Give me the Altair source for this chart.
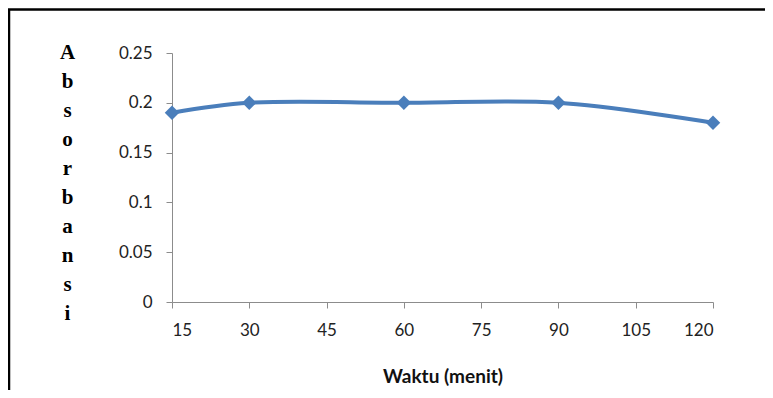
import altair as alt
import pandas as pd

waktu = [15, 30, 60, 90, 120]
absorbansi = [0.19, 0.20, 0.20, 0.20, 0.18]
x_ticks = [15, 30, 45, 60, 75, 90, 105, 120]
y_ticks = [0, 0.05, 0.1, 0.15, 0.2, 0.25]
y_title = ["A", "b", "s", "o", "r", "b", "a", "n", "s", "i"]
x_title = "Waktu (menit)"

df = pd.DataFrame({"waktu": waktu, "abs": absorbansi})

LINE_COLOR = "#4a7ebb"
AXIS_COLOR = "#8c8c8c"

x_enc = alt.X(
    "waktu:Q",
    scale=alt.Scale(domain=[15, 120], nice=False, zero=False),
    axis=alt.Axis(
        values=x_ticks,
        title=x_title,
        grid=False,
        domainColor=AXIS_COLOR,
        tickColor=AXIS_COLOR,
        tickSize=6,
        labelFont="Lato",
        labelFontSize=17,
        labelColor="#222222",
        labelPadding=14,
        titleFont="Lato",
        titleFontSize=19,
        titleFontWeight="bold",
        titleColor="#111111",
        titleBaseline="alphabetic",
        titleY=80,
    ),
)
y_enc = alt.Y(
    "abs:Q",
    scale=alt.Scale(domain=[0, 0.25], nice=False),
    axis=alt.Axis(
        values=y_ticks,
        format="~g",
        title=y_title,
        grid=False,
        domainColor=AXIS_COLOR,
        tickColor=AXIS_COLOR,
        tickSize=6,
        labelFont="Lato",
        labelFontSize=17,
        labelColor="#222222",
        labelPadding=14,
        titleFont="Liberation Serif",
        titleFontSize=21,
        titleFontWeight="bold",
        titleColor="#000000",
        titleAngle=0,
        titleAlign="center",
        titleBaseline="alphabetic",
        titleLineHeight=29,
        titleX=-105,
        titleY=5,
    ),
)

line = alt.Chart(df).mark_line(
    interpolate="catmull-rom", color=LINE_COLOR, strokeWidth=4
).encode(x=x_enc, y=y_enc)

points = alt.Chart(df).mark_point(
    shape="diamond", filled=True, size=210, color=LINE_COLOR, opacity=1
).encode(x="waktu:Q", y="abs:Q")

frame = alt.Chart(alt.Data(values=[{}])).mark_rect(
    fill=None, stroke="#000000", strokeWidth=2.5
).encode(
    x=alt.value(-163), x2=alt.value(640), y=alt.value(-43.5), y2=alt.value(400)
)

chart = (
    alt.layer(frame, line, points)
    .properties(
        width=541,
        height=249,
        autosize=alt.AutoSizeParams(type="none"),
        padding={"left": 164, "top": 45, "right": 52, "bottom": 88},
        background="white",
    )
    .configure_view(stroke=None)
)

chart.save("out.html", embed_options={"renderer": "svg", "actions": False})
